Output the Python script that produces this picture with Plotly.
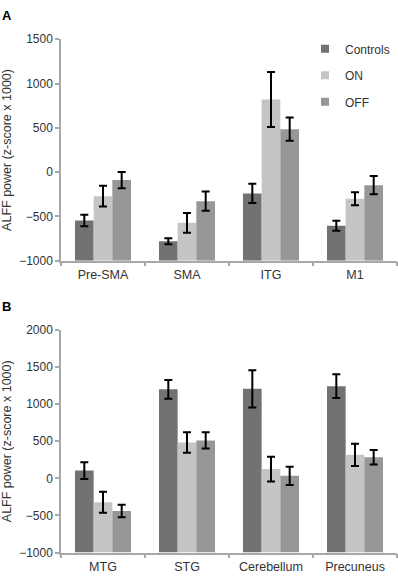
import plotly.graph_objects as go

# ---------------- data ----------------
regions_a = ["Pre-SMA", "SMA", "ITG", "M1"]
controls_a = [-545, -780, -240, -605]
controls_a_err = [65, 35, 108, 57]
on_a = [-272, -572, 820, -300]
on_a_err = [117, 112, 310, 73]
off_a = [-90, -328, 485, -147]
off_a_err = [92, 108, 132, 103]

regions_b = ["MTG", "STG", "Cerebellum", "Precuneus"]
controls_b = [105, 1200, 1207, 1243]
controls_b_err = [112, 125, 252, 160]
on_b = [-322, 484, 125, 317]
on_b_err = [142, 138, 168, 150]
off_b = [-440, 512, 35, 285]
off_b_err = [85, 110, 123, 97]

y_ticks_a = [-1000, -500, 0, 500, 1000, 1500]
y_ticks_b = [-1000, -500, 0, 500, 1000, 1500, 2000]
Y_MIN = -1000

series_names = ["Controls", "ON", "OFF"]
colors = ["#717372", "#c5c5c5", "#979797"]

W, H = 398, 581
FONT = "Liberation Sans, Arial, Helvetica, sans-serif"
TXT = "#333333"
AX = "#a8a8a8"

fig = go.Figure()

def add_panel(cats, series, errs, xa, ya):
    for name, vals, err, col in zip(series_names, series, errs, colors):
        fig.add_trace(go.Bar(
            x=cats, y=[v - Y_MIN for v in vals], base=Y_MIN,
            name=name, marker=dict(color=col, line=dict(width=0)),
            error_y=dict(type="data", array=err, color="black", thickness=2, width=4),
            showlegend=False, xaxis=xa, yaxis=ya,
        ))

add_panel(regions_a, [controls_a, on_a, off_a],
          [controls_a_err, on_a_err, off_a_err], "x", "y")
add_panel(regions_b, [controls_b, on_b, off_b],
          [controls_b_err, on_b_err, off_b_err], "x2", "y2")

# legend entries
for name, col in zip(series_names, colors):
    fig.add_trace(go.Scatter(
        x=[None], y=[None], mode="markers", name=name, legendgroup=name,
        marker=dict(symbol="square", size=8, color=col),
        xaxis="x", yaxis="y",
    ))

def px_y(y):
    return 1 - y / H

xdom = [61 / W, 397 / W]
xcommon = dict(type="category", showline=True, linecolor=AX, linewidth=1.5,
               ticks="outside", tickson="boundaries", ticklen=4, tickcolor=AX,
               tickwidth=1.5, showgrid=False, zeroline=False, range=[-0.5, 3.5],
               ticklabelstandoff=2,
               tickfont=dict(family=FONT, size=12.5, color=TXT), domain=xdom, fixedrange=True)
ycommon = dict(showline=True, linecolor=AX, linewidth=1.5, ticks="outside",
               ticklen=4, tickcolor=AX, tickwidth=1.5, showgrid=False, zeroline=False,
               tickfont=dict(family=FONT, size=12, color=TXT),
               title=dict(text="ALFF power (z-score x 1000)",
                          font=dict(family=FONT, size=12.5, color=TXT), standoff=8),
               fixedrange=True)

fig.update_layout(
    width=W, height=H,
    margin=dict(l=0, r=0, t=0, b=0),
    paper_bgcolor="white", plot_bgcolor="white",
    barmode="group", bargap=0.333, bargroupgap=0,
    xaxis=dict(**xcommon, anchor="y"),
    yaxis=dict(**ycommon, anchor="x", range=[-1000, 1500], tickvals=y_ticks_a,
               domain=[px_y(260), px_y(33)]),
    xaxis2=dict(**xcommon, anchor="y2"),
    yaxis2=dict(**ycommon, anchor="x2", range=[-1000, 2000], tickvals=y_ticks_b,
                domain=[px_y(559), px_y(331)]),
    legend=dict(x=305 / W, y=px_y(28), xanchor="left", yanchor="top",
                font=dict(family=FONT, size=12, color=TXT), tracegroupgap=7.5,
                bgcolor="rgba(0,0,0,0)", itemclick=False, itemdoubleclick=False),
    showlegend=True,
    annotations=[
        dict(text="<b>A</b>", x=0, y=px_y(8.5), xref="paper", yref="paper",
             xanchor="left", yanchor="middle", showarrow=False,
             font=dict(family=FONT, size=13, color="black")),
        dict(text="<b>B</b>", x=0, y=px_y(307), xref="paper", yref="paper",
             xanchor="left", yanchor="middle", showarrow=False,
             font=dict(family=FONT, size=13, color="black")),
    ],
)

fig.write_html(
    "out.html",
    config={"displayModeBar": False},
    post_script="document.body.style.margin='0';document.body.style.overflow='hidden';",
)
